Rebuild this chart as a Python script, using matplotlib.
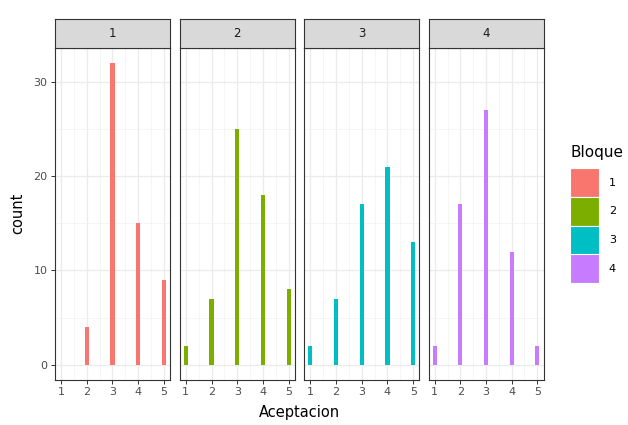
import matplotlib
matplotlib.use('Agg')
import matplotlib.pyplot as plt
from matplotlib.patches import Patch
import numpy as np

# data: count of each Aceptacion score per Bloque
bloques = ['1', '2', '3', '4']
aceptacion = [1, 2, 3, 4, 5]
count_b1 = [0, 4, 32, 15, 9]
count_b2 = [2, 7, 25, 18, 8]
count_b3 = [2, 7, 17, 21, 13]
count_b4 = [2, 17, 27, 12, 2]
counts = [count_b1, count_b2, count_b3, count_b4]
colors = ['#F8766D', '#7CAE00', '#00BFC4', '#C77CFF']

W, H = 628.0, 425.0
fig = plt.figure(figsize=(W / 100, H / 100), dpi=100)

panel_x = [(54.5, 170.5), (179.5, 295.0), (304.0, 419.5), (428.5, 543.5)]
top, bottom = 47.5, 380.0
strip_top = 19.0

for i in range(4):
	x0, x1 = panel_x[i]
	ax = fig.add_axes([x0 / W, 1 - bottom / H, (x1 - x0) / W, (bottom - top) / H])
	x = np.array(aceptacion)
	y = np.array(counts[i])
	mask = y > 0
	ax.bar(x[mask], y[mask], width=0.16, color=colors[i], zorder=3)
	ax.set_xlim(0.755, 5.245)
	ax.set_ylim(-1.6, 33.6)
	ax.set_xticks(aceptacion)
	ax.set_xticks([1.5, 2.5, 3.5, 4.5], minor=True)
	ax.set_yticks([0, 10, 20, 30])
	ax.set_yticks([5, 15, 25], minor=True)
	ax.grid(True, which='major', color='#EBEBEB', lw=0.9, zorder=0)
	ax.grid(True, which='minor', color='#F2F2F2', lw=0.5, zorder=0)
	ax.tick_params(which='minor', length=0)
	ax.tick_params(which='major', direction='out', length=3, width=0.7,
		color='#333333', labelcolor='#4D4D4D', labelsize=8, pad=2)
	if i > 0:
		ax.tick_params(axis='y', length=0, labelleft=False)
	for s in ax.spines.values():
		s.set_color('#333333')
		s.set_linewidth(0.8)
	ax.set_axisbelow(True)

	# facet strip
	sax = fig.add_axes([x0 / W, 1 - top / H, (x1 - x0) / W, (top - strip_top) / H])
	sax.set_facecolor('#D9D9D9')
	sax.set_xticks([])
	sax.set_yticks([])
	for s in sax.spines.values():
		s.set_color('#333333')
		s.set_linewidth(0.8)
	sax.text(0.5, 0.5, bloques[i], ha='center', va='center', fontsize=8.5, color='#1A1A1A',
		transform=sax.transAxes)

fig.text(18 / W, 1 - ((top + bottom) / 2) / H, 'count', rotation=90, ha='center', va='center',
	fontsize=10.5, color='black')
fig.text(299 / W, 1 - 413 / H, 'Aceptacion', ha='center', va='center', fontsize=10.5, color='black')

handles = [Patch(facecolor=c, edgecolor='white', linewidth=0.8) for c in colors]
lgd = fig.legend(handles, bloques, title='Bloque', loc='upper left',
	bbox_to_anchor=(570 / W, 1 - 145 / H), frameon=False, fontsize=8,
	title_fontsize=11, handlelength=2.6, handleheight=3.6, labelspacing=0.0,
	handletextpad=0.9, borderpad=0, borderaxespad=0, alignment='left')
lgd._legend_box.sep = 6

plt.savefig('out.png', dpi=100)
